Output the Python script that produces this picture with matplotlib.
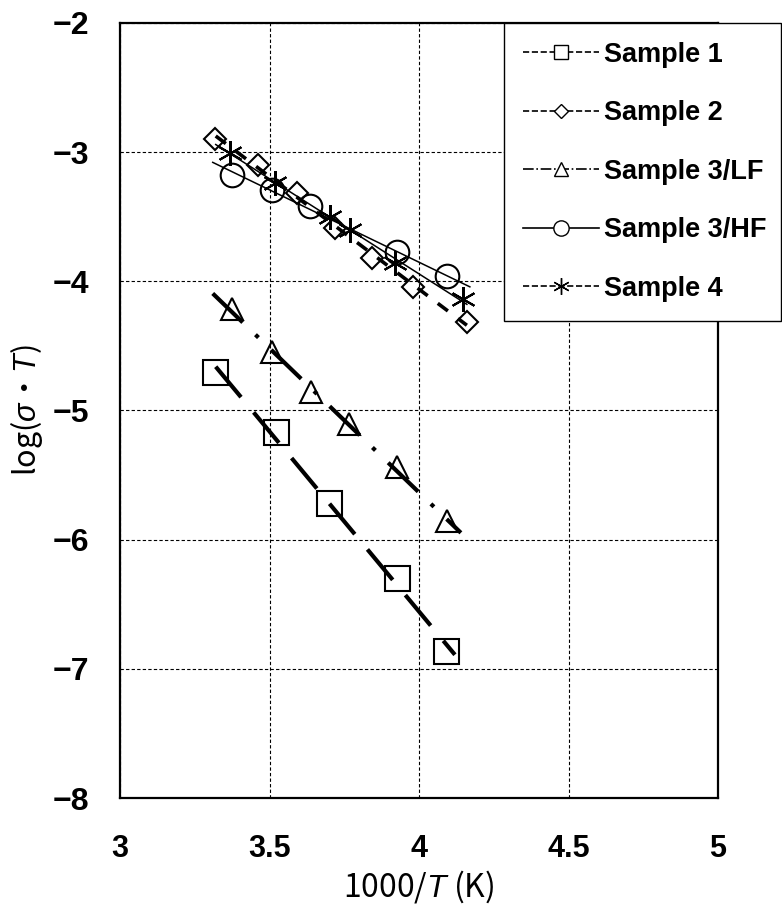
import matplotlib
matplotlib.use("Agg")
from matplotlib import pyplot as plt
from matplotlib.lines import Line2D
import numpy as np

plt.rcParams['font.family'] = ['Liberation Sans', 'Noto Sans CJK JP', 'DejaVu Sans']
plt.rcParams['mathtext.fontset'] = 'custom'
plt.rcParams['mathtext.rm'] = 'Noto Sans CJK JP'
plt.rcParams['mathtext.it'] = 'Liberation Sans:italic'
plt.rcParams['mathtext.bf'] = 'Liberation Sans:bold'

# data (x = 1000/T, y = log(sigma*T))
s1_x = [3.318, 3.522, 3.699, 3.926, 4.090]
s1_y = [-4.705, -5.170, -5.720, -6.300, -6.860]

s2_x = [3.318, 3.462, 3.592, 3.719, 3.843, 3.980, 4.161]
s2_y = [-2.896, -3.097, -3.314, -3.584, -3.816, -4.048, -4.318]

s3lf_x = [3.375, 3.508, 3.639, 3.766, 3.926, 4.094]
s3lf_y = [-4.218, -4.550, -4.860, -5.107, -5.440, -5.856]

s3hf_x = [3.375, 3.508, 3.635, 3.926, 4.094]
s3hf_y = [-3.175, -3.290, -3.420, -3.777, -3.963]

s4_x = [3.368, 3.518, 3.702, 3.769, 3.920, 4.147]
s4_y = [-3.005, -3.236, -3.499, -3.600, -3.855, -4.141]

# x-span of each trend line
fit_lo = [3.32, 3.32, 3.31, 3.31, 3.32]
fit_hi = [4.12, 4.16, 4.14, 4.17, 4.16]

labels = ["Sample 1", "Sample 2", "Sample 3/LF", "Sample 3/HF", "Sample 4"]

fig = plt.figure(figsize=(7.82, 9.16), dpi=100)
ax = fig.add_axes([0.1535, 0.1288, 0.7647, 0.8462])

series = [(s1_x, s1_y), (s2_x, s2_y), (s3lf_x, s3lf_y), (s3hf_x, s3hf_y), (s4_x, s4_y)]
markers = ['s', 'D', '^', 'o', (6, 2, 0)]
msizes = [18, 11.5, 16, 17, 18]
line_w = [3.0, 2.6, 3.0, 1.1, 1.1]
line_st = [(0, (9.5, 4.75)), (0, (3.5, 3.5)), (0, (10, 4.25, 1, 4.25)), '-', '-']

for i, (xs, ys) in enumerate(series):
    ax.plot(xs, ys, linestyle='none', marker=markers[i], markersize=msizes[i],
            markerfacecolor='none', markeredgecolor='black', markeredgewidth=1.5, zorder=3)
    k, b = np.polyfit(xs, ys, 1)
    fx = np.array([fit_lo[i], fit_hi[i]])
    ax.plot(fx, k * fx + b, color='black', linewidth=line_w[i], linestyle=line_st[i],
            dash_capstyle='butt', zorder=4)

ax.set_xlim(3, 5)
ax.set_ylim(-8, -2)
ax.set_xticks([3, 3.5, 4, 4.5, 5])
ax.set_xticklabels(["3", "3.5", "4", "4.5", "5"])
ax.set_yticks([-2, -3, -4, -5, -6, -7, -8])
ax.set_yticklabels(["\u22122", "\u22123", "\u22124", "\u22125", "\u22126", "\u22127", "\u22128"])
ax.tick_params(axis='x', length=0, pad=26, labelsize=22)
ax.tick_params(axis='y', length=0, pad=22, labelsize=23)
for t in ax.get_xticklabels():
    t.set_fontweight('bold')
for t in ax.get_yticklabels():
    t.set_fontweight('bold')
ax.grid(True, color='black', linewidth=0.8, linestyle=(0, (3, 2)))
for sp in ax.spines.values():
    sp.set_linewidth(1.6)

ax.set_xlabel(r"1000/$\mathit{T}$ (K)", fontsize=23, labelpad=3,
              fontfamily='Noto Sans CJK JP')
ax.set_ylabel("log($\\mathit{\\sigma}$\u30fb$\\mathit{T}$)", fontsize=22,
              fontfamily='Noto Sans CJK JP')
ax.yaxis.set_label_coords(-0.126, 0.5)

# legend with smaller markers
handles = []
for i in range(5):
    handles.append(Line2D([], [], color='black', linewidth=1.2,
                          linestyle=['--', '--', '-.', '-', '--'][i],
                          marker=markers[i], markersize=[10, 7, 10, 11, 12][i],
                          markerfacecolor='white', markeredgecolor='black', markeredgewidth=1.0))
leg = fig.legend(handles, labels, loc='upper left',
                 bbox_to_anchor=(0.6445, 0.975, 0.354, 0.0), mode='expand',
                 borderaxespad=0, fancybox=False, framealpha=1, edgecolor='black',
                 prop={'weight': 'bold', 'size': 19.5}, handlelength=2.8,
                 labelspacing=1.2, borderpad=0.7, handletextpad=0.2)
leg.get_frame().set_linewidth(1.0)

plt.savefig("out.png", dpi=100)
